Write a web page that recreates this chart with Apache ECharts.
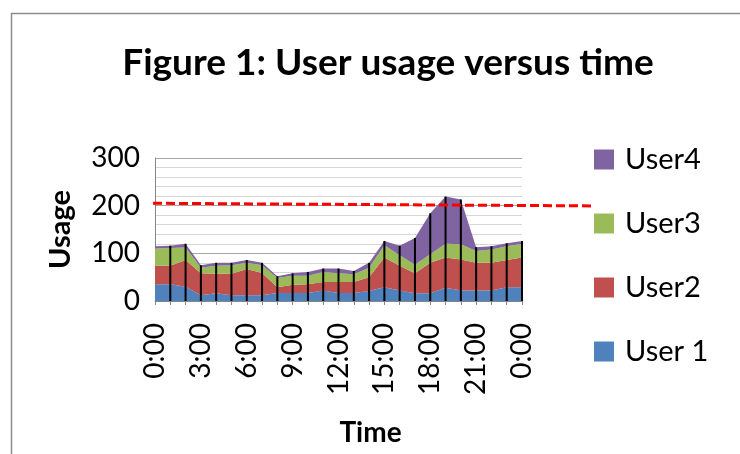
<!DOCTYPE html>
<html>
<head>
<meta charset="utf-8">
<script src="https://cdn.jsdelivr.net/npm/echarts@6/dist/echarts.min.js"></script>
<style>html,body{margin:0;padding:0;background:#fff;}#c{width:740px;height:454px;}</style>
</head>
<body>
<div id="c"></div>
<script>
const times = ["0:00","1:00","2:00","3:00","4:00","5:00","6:00","7:00","8:00","9:00","10:00","11:00","12:00","13:00","14:00","15:00","16:00","17:00","18:00","19:00","20:00","21:00","22:00","23:00","0:00"];
const user1 = [35,35,30,12,16,12,12,12,17,17,17,22,17,17,21,29,22,16,16,28,22,22,22,29,29];
const user2 = [39,39,56,46,41,45,55,47,12,17,18,18,23,23,29,62,52,42,64,63,65,58,58,57,62];
const user3 = [36,37,26,12,17,18,13,16,19,19,18,21,18,16,20,26,22,18,18,29,32,25,28,29,29];
const user4 = [5,5,8,5,6,5,6,5,4,5,8,7,10,7,10,9,20,56,86,99,94,8,7,6,6];
const thresholdX = [0, 1];
const thresholdY = [205, 199.5];
const yTicks = [0, 100, 200, 300];

const FONT = "Lato, 'Open Sans', sans-serif";
const totals = user1.map((v, i) => v + user2[i] + user3[i] + user4[i]);
const dropData = totals.map((t, i) => [i, t]).filter((d, i) => i > 0);

const chart = echarts.init(document.getElementById('c'), null, {renderer: 'canvas'});
function area(name, data, color) {
  return {
    name: name, type: 'line', stack: 'total', data: data, symbol: 'none',
    lineStyle: {width: 0}, areaStyle: {color: color, opacity: 1}, itemStyle: {color: color},
    xAxisIndex: 0, yAxisIndex: 0, z: 2, silent: true
  };
}
chart.setOption({
  animation: false,
  backgroundColor: '#fff',
  title: {
    text: 'Figure 1: User usage versus time',
    left: 383, top: 40, textAlign: 'center',
    textStyle: {fontFamily: FONT, fontSize: 37, fontWeight: 'bold', color: '#000'}
  },
  graphic: [{
    type: 'rect', left: 9, top: 11, silent: true,
    shape: {width: 800, height: 500},
    style: {fill: 'none', stroke: '#8c8c8c', lineWidth: 1.5}
  }],
  legend: {
    data: ['User4', 'User3', 'User2', 'User 1'],
    orient: 'vertical', left: 589, top: 140,
    itemWidth: 20, itemHeight: 20, itemGap: 35, icon: 'rect',
    textStyle: {fontFamily: FONT, fontSize: 29, color: '#000', lineHeight: 20, padding: [0, 0, 0, 6]}
  },
  grid: [
    {left: 155, right: 218, top: 158, bottom: 153, containLabel: false},
    {left: 153, right: 149, top: 158, bottom: 153, containLabel: false}
  ],
  xAxis: [{
    type: 'category', data: times, boundaryGap: false, gridIndex: 0,
    name: 'Time', nameLocation: 'middle', nameGap: 118,
    nameTextStyle: {fontFamily: FONT, fontSize: 28, fontWeight: 'bold', color: '#000', padding: [0, 0, 0, 64]},
    axisLine: {lineStyle: {color: '#868686', width: 1}},
    axisTick: {show: true, interval: 0, length: 4, lineStyle: {color: '#868686'}},
    axisLabel: {interval: 2, rotate: 90, margin: 22, fontFamily: FONT, fontSize: 28, color: '#000'},
    splitLine: {show: false}
  }, {
    type: 'value', gridIndex: 1, min: thresholdX[0], max: thresholdX[1], show: false
  }],
  yAxis: [{
    type: 'value', min: yTicks[0], max: yTicks[yTicks.length - 1], interval: 100, gridIndex: 0,
    name: 'Usage', nameLocation: 'middle', nameGap: 80, nameRotate: 90,
    nameTextStyle: {fontFamily: FONT, fontSize: 29, fontWeight: 'bold', color: '#000'},
    axisLine: {show: true, lineStyle: {color: '#868686', width: 1}},
    axisTick: {show: false},
    axisLabel: {margin: 15, fontFamily: FONT, fontSize: 28, color: '#000'},
    splitLine: {show: true, lineStyle: {color: '#a6a6a6', width: 1}},
    minorTick: {show: false, splitNumber: 5},
    minorSplitLine: {show: true, lineStyle: {color: '#d6d6d6', width: 1}}
  }, {
    type: 'value', gridIndex: 1, min: yTicks[0], max: yTicks[yTicks.length - 1], show: false
  }],
  series: [
    area('User 1', user1, '#4F81BD'),
    area('User2', user2, '#C0504D'),
    area('User3', user3, '#9BBB59'),
    area('User4', user4, '#8064A2'),
    {
      type: 'custom', xAxisIndex: 0, yAxisIndex: 0, z: 3, silent: true,
      data: dropData,
      renderItem: function (params, api) {
        const a = api.coord([api.value(0), 0]);
        const b = api.coord([api.value(0), api.value(1)]);
        return {type: 'line', shape: {x1: a[0], y1: a[1], x2: b[0], y2: b[1]},
                style: {stroke: '#000', lineWidth: 2}};
      }
    },
    {
      type: 'line', xAxisIndex: 1, yAxisIndex: 1, z: 4, silent: true, symbol: 'none',
      data: thresholdX.map((x, i) => [x, thresholdY[i]]),
      lineStyle: {color: '#FF0000', width: 3, type: [9, 4]}
    }
  ]
});
</script>
</body>
</html>
